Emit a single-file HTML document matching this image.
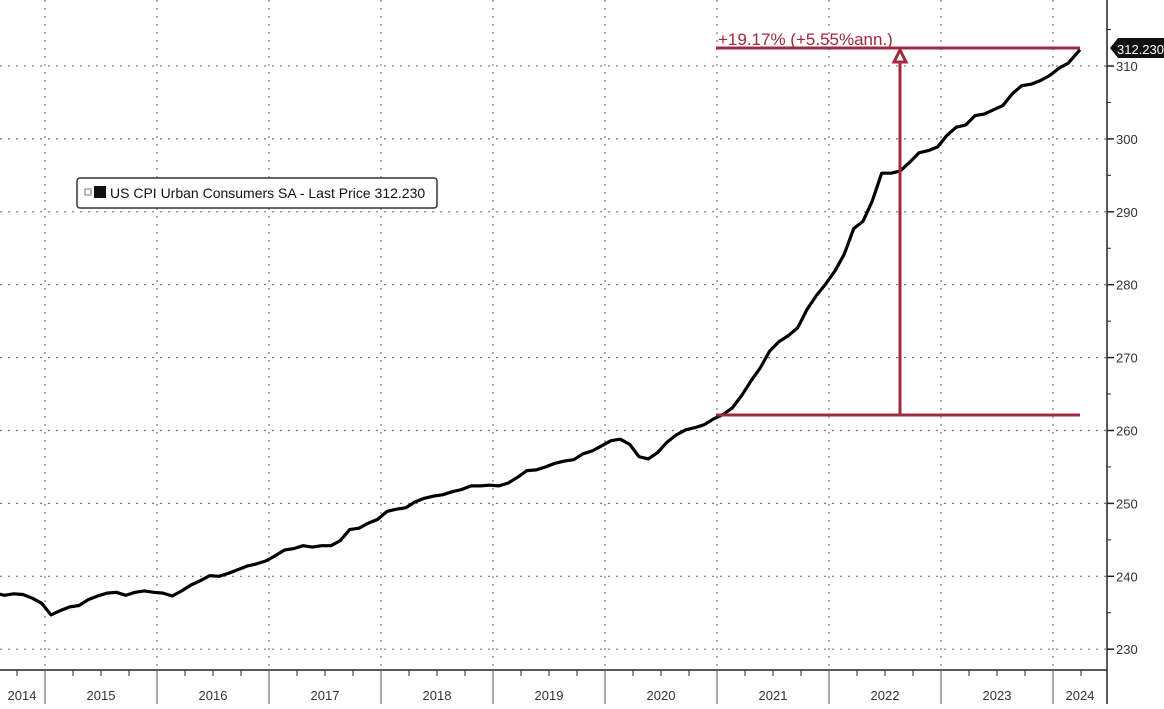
<!DOCTYPE html>
<html><head><style>
body{margin:0;background:#fff;width:1164px;height:704px;overflow:hidden}
svg text{font-family:"Liberation Sans",sans-serif}
</style></head><body>
<svg id="s" width="1164" height="704" xmlns="http://www.w3.org/2000/svg">
<g id="grid" stroke="#777" stroke-width="1.2" stroke-dasharray="2,6"></g>
<line x1="1107" y1="0" x2="1107" y2="704" stroke="#222" stroke-width="1.5"/>
<line x1="0" y1="670" x2="1107" y2="670" stroke="#222" stroke-width="1.5"/>
<g id="ax" font-size="13" fill="#333"></g>
<polyline id="cpi" fill="none" stroke="#000" stroke-width="3.2" stroke-linejoin="round"/>
<g stroke="#a0283f" stroke-width="3" fill="none">
<line x1="716" y1="48" x2="1080" y2="48"/>
<line x1="716" y1="415" x2="1080" y2="415"/>
<line x1="900" y1="415" x2="900" y2="58"/>
<polygon points="900,50 894,62 906,62" fill="#fff"/>
</g>
<text x="718" y="45" font-size="17" fill="#a0283f">+19.17% (+5.55%ann.)</text>
<path d="M1110,48 L1118,38 L1164,38 L1164,58 L1118,58 Z" fill="#111"/>
<text x="1117" y="54" font-size="13" fill="#fff">312.230</text>
<rect x="77" y="178" width="360" height="30" rx="3" fill="#fff" stroke="#333" stroke-width="1.5"/>
<rect x="85" y="189" width="6" height="6" fill="#fff" stroke="#777"/>
<rect x="94" y="186" width="12" height="12" fill="#111"/>
<text x="110" y="198" font-size="14" fill="#111">US CPI Urban Consumers SA - Last Price 312.230</text>
</svg>
<script>
const d=[237.5,237.7,237.4,237.6,237.5,237.0,236.3,
234.7,235.3,235.8,236.0,236.8,237.3,237.7,237.8,237.4,237.8,238.0,237.8,
237.7,237.3,238.0,238.8,239.4,240.1,240.0,240.4,240.9,241.4,241.7,242.1,
242.8,243.6,243.8,244.2,244.0,244.2,244.2,244.9,246.4,246.6,247.3,247.8,
248.9,249.2,249.4,250.2,250.7,251.0,251.2,251.6,251.9,252.4,252.4,252.5,
252.4,252.8,253.6,254.5,254.6,255.0,255.5,255.8,256.0,256.8,257.2,257.9,
258.6,258.8,258.1,256.4,256.1,257.0,258.4,259.4,260.1,260.4,260.8,261.6,
262.2,263.1,264.8,266.8,268.6,270.9,272.2,273.0,274.1,276.6,278.5,280.1,
281.9,284.2,287.7,288.7,291.5,295.3,295.3,295.6,296.8,298.1,298.4,298.9,
300.5,301.6,301.9,303.2,303.4,304.0,304.6,306.2,307.3,307.5,308.0,308.7,
309.7,310.4,312.23];
const Y=v=>66+(310-v)*7.29;
let pts=d.map((v,i)=>{let t=2014+5/12+i/12;let x=51+(t-2015)*112;if(i==d.length-1)x=1080;if(i==0)x=0;return x.toFixed(1)+","+Y(v).toFixed(1)});
document.getElementById('cpi').setAttribute('points',pts.join(' '));
const g=document.getElementById('grid'),ax=document.getElementById('ax'),ns="http://www.w3.org/2000/svg";
function el(p,t,a){const e=document.createElementNS(ns,t);for(const k in a)e.setAttribute(k,a[k]);p.appendChild(e);return e}
for(let v=230;v<=310;v+=10){const y=Y(v);el(g,'line',{x1:0,y1:y,x2:1107,y2:y});
el(ax,'line',{x1:1107,y1:y,x2:1114,y2:y,stroke:'#222','stroke-width':1.5});
el(ax,'text',{x:1116,y:y+5}).textContent=v;
el(ax,'line',{x1:1107,y1:Y(v+5),x2:1111,y2:Y(v+5),stroke:'#222','stroke-width':1});}
for(let k=0;k<10;k++){const x=45+k*112;el(g,'line',{x1:x,y1:0,x2:x,y2:670});
el(ax,'line',{x1:x,y1:670,x2:x,y2:704,stroke:'#555','stroke-width':1});
for(let q=1;q<4;q++){const xq=x+q*28;if(xq<1107)el(ax,'line',{x1:xq,y1:670,x2:xq,y2:676,stroke:'#222'});}
if(k==0)el(ax,'line',{x1:17,y1:670,x2:17,y2:676,stroke:'#222'});}
const yrs=[[2014,22],[2015,101],[2016,213],[2017,325],[2018,437],[2019,549],[2020,661],[2021,773],[2022,885],[2023,997],[2024,1080]];
yrs.forEach(([t,x])=>{el(ax,'text',{x:x,y:700,'text-anchor':'middle'}).textContent=t});
</script>
</body></html>
